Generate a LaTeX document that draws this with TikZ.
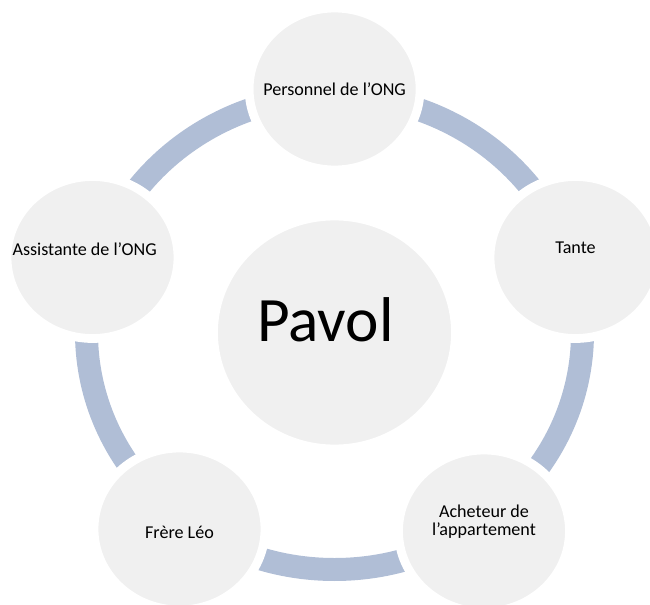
\documentclass[tikz,border=0pt]{standalone}
\usepackage{fontspec}
\setmainfont{Carlito}
\definecolor{mRing}{HTML}{B0BED6}
\definecolor{mDisc}{HTML}{F0F0F0}
\usetikzlibrary{shapes.geometric,backgrounds}

\begin{document}
\begin{tikzpicture}[x=0.02cm, y=-0.02cm, font=\fontsize{10.3}{10.4}\selectfont,
  disc/.style={ellipse, fill=mDisc, draw=white, line width=5pt, minimum width=3.42cm, minimum height=3.24cm, inner sep=0pt},
  ring/.style={draw=mRing, line width=0.46cm}]
\useasboundingbox (0,0) rectangle (650,605);
% centre
\node[disc, minimum width=4.84cm, minimum height=4.66cm,
  label={[xshift=-5.1pt, yshift=7.5pt, font=\fontsize{36}{40}\selectfont]center:Pavol}] (pavol) at (334.5,332.5) {};
% people around
\node[disc, label={center:Personnel de l’ONG}] (ong) at (334.6,89) {};
\node[disc, label={[yshift=5.4pt]center:Tante}] (tante) at (575.5,257.5) {};
\node[disc, label={[yshift=5.3pt, align=center]center:Acheteur de\\l’appartement}] (acheteur) at (484,531) {};
\node[disc, label={[yshift=-2.2pt]center:Frère Léo}] (leo) at (179.5,529) {};
\node[disc, label={[xshift=-4.5pt, yshift=4.8pt]center:Assistante de l’ONG}] (assist) at (92.5,257.5) {};
% cycle behind the circles
\begin{scope}[on background layer]
\draw[ring] (pavol.center) ellipse [x radius=248, y radius=237];
\end{scope}
\end{tikzpicture}
\end{document}
